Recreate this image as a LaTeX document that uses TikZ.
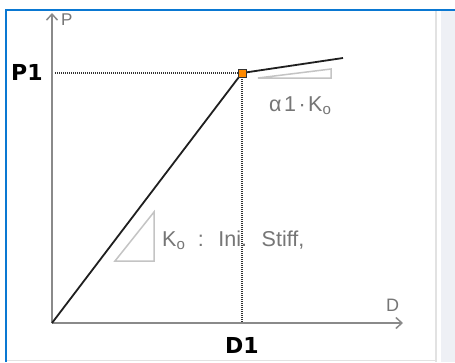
\documentclass[tikz,border=0pt]{standalone}
\usepackage{xcolor}
\usepackage{fontspec}
\setmainfont{Liberation Sans}
\newfontfamily\lblfont[WordSpace=2.1]{Liberation Sans}
\newfontfamily\valfont{DejaVu Sans}
\usepackage{tikz}
\usetikzlibrary{arrows.meta, positioning}
\definecolor{midasblue}{HTML}{0A78D2}
\definecolor{axisgray}{HTML}{8A8A8A}
\definecolor{labelgray}{HTML}{767676}
\definecolor{slopegray}{HTML}{C4C4C4}
\definecolor{kneeorange}{HTML}{FF8A00}
\definecolor{panelgray}{HTML}{EEF0F5}
\definecolor{sepgray}{HTML}{E2E2E2}

\begin{document}
\begin{tikzpicture}[x=1pt, y=-1pt,
  axis/.style={axisgray, line width=1.5pt, -{Straight Barb[length=6pt, width=11pt, line width=1.5pt]}},
  curve/.style={black!88, line width=1.8pt, line join=round},
  guide/.style={black!80, line width=1.1pt, dash pattern=on 1pt off 1pt},
  slope/.style={slopegray, line width=1.5pt},
  knee/.style={rectangle, fill=kneeorange, draw=black!80, line width=0.9pt, minimum size=8pt, inner sep=0pt},
  lbl/.style={labelgray, font=\lblfont\fontsize{21.5}{24}\selectfont, inner sep=0pt, anchor=base west},
  val/.style={black, font=\valfont\bfseries\fontsize{22}{24}\selectfont, inner sep=0pt}
]
\useasboundingbox (0,0) rectangle (455,362);
\fill[white] (0,0) rectangle (455,362);
\fill[panelgray] (441,11) rectangle (455,362);
\draw[sepgray, line width=2pt] (436,11) -- (436,362);
\draw[sepgray, line width=1pt] (7,360.5) -- (436,360.5);
\draw[midasblue, line width=2pt] (6,362) -- (6,10) -- (455,10);

\coordinate (origin) at (52,323);
\coordinate (ytop) at (52,13);
\coordinate (xend) at (403,323);
\coordinate (kp) at (242,73);
\coordinate (tail) at (343,58);
\coordinate (p1) at (55,73);
\coordinate (d1) at (242,323);

\draw[guide] (p1) -- (kp);
\draw[guide] (kp) -- (d1);
\draw[axis] (origin) -- (ytop);
\draw[axis] (origin) -- (xend);
\draw[slope] (115,261) -- (154,261) -- (154,212) -- cycle;
\draw[slope] (258,78) -- (331,78) -- (331,69) -- cycle;
\draw[curve] (origin) -- (kp) -- (tail);
\node[knee] (knee) at (kp) {};

\node[lbl, font=\lblfont\fontsize{17}{19}\selectfont] (plbl) at (61,25) {P};
\node[lbl, font=\lblfont\fontsize{18}{20}\selectfont] (dlbl) at (386,311) {D};
\node[val, anchor=base west] (pval) at (11,80) {P1};
\node[val, anchor=base] (dval) at (242,353) {D1};
\node[lbl] (stiff) at (162,246) {K\textsubscript{o} : Ini. Stiff,};
\node[lbl] (ratio) at (269,111) {α\kern2.5pt1\kern2.5pt·\kern2.5ptK\textsubscript{o}};
\end{tikzpicture}
\end{document}
